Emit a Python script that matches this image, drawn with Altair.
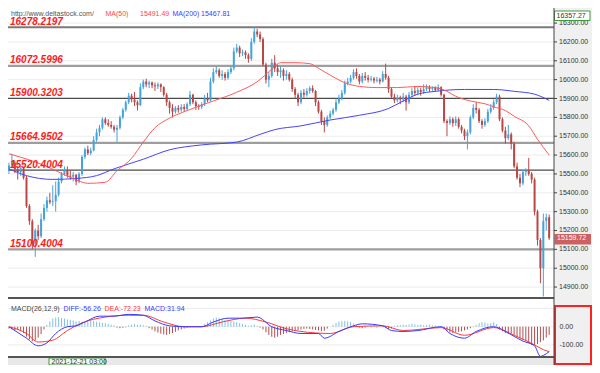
import altair as alt
import pandas as pd

# ---------------- data ----------------
opens = [
    15520, 15545, 15560, 15525, 15510, 15530, 15480, 15330, 15250, 15130,
    15200, 15170, 15260, 15320, 15360, 15350, 15355, 15390, 15460, 15500,
    15520, 15490, 15485, 15495, 15460, 15500, 15590, 15630, 15610, 15625,
    15680, 15720, 15745, 15790, 15770, 15760, 15750, 15735, 15745, 15800,
    15840, 15880, 15915, 15895, 15880, 15865, 15960, 15990, 15975, 15985,
    15970, 15965, 15975, 15960, 15920, 15880, 15850, 15830, 15850, 15840,
    15855, 15845, 15870, 15920, 15880, 15860, 15855, 15870, 15900, 15890,
    15990, 16040, 16050, 16020, 16030, 16010, 16040, 16060, 16150, 16170,
    16140, 16145, 16130, 16110, 16200, 16255, 16240, 16215, 16080, 16000,
    16020, 16090, 16060, 16040, 16050, 16020, 16030, 16000, 15950, 15920,
    15880, 15930, 15920, 15940, 15955, 15940, 15880, 15830, 15780, 15760,
    15800, 15820, 15840, 15880, 15900, 15930, 15980, 15990, 16010, 16040,
    16020, 15990, 16020, 16010, 16000, 16005, 15995, 16000, 15990, 16030,
    16010, 15950, 15910, 15890, 15905, 15895, 15910, 15880, 15920, 15940,
    15930, 15945, 15935, 15950, 15960, 15950, 15955, 15945, 15960, 15920,
    15780, 15770, 15790, 15770, 15790, 15750, 15730, 15700, 15720, 15800,
    15850, 15840, 15780, 15760, 15780, 15830, 15850, 15880, 15910, 15790,
    15730, 15690, 15710, 15660, 15540, 15480, 15450, 15510, 15520, 15500,
    15470, 15300, 15150, 15000, 15250, 15270,
]
highs = [
    15560, 15607, 15570, 15540, 15545, 15535, 15490, 15340, 15260, 15210,
    15230, 15290, 15340, 15380, 15400, 15440, 15460, 15480, 15510, 15540,
    15540, 15520, 15510, 15500, 15510, 15600, 15640, 15650, 15640, 15700,
    15740, 15760, 15800, 15800, 15790, 15780, 15760, 15760, 15810, 15850,
    15890, 15930, 15925, 15935, 15890, 15980, 16000, 16005, 15995, 15990,
    15985, 15985, 15980, 15965, 15930, 15890, 15870, 15860, 15865, 15870,
    15870, 15880, 15940, 15925, 15890, 15870, 15880, 15920, 15930, 16010,
    16060, 16070, 16060, 16050, 16040, 16055, 16070, 16170, 16190, 16180,
    16160, 16155, 16140, 16220, 16280, 16270, 16255, 16225, 16090, 16040,
    16110, 16130, 16080, 16070, 16060, 16050, 16040, 16010, 15960, 15930,
    15945, 15950, 15955, 15965, 15970, 15945, 15890, 15840, 15800, 15810,
    15835, 15850, 15900, 15920, 15945, 15995, 16010, 16025, 16055, 16060,
    16030, 16035, 16040, 16025, 16020, 16015, 16015, 16010, 16045, 16085,
    16020, 15960, 15925, 15920, 15915, 15930, 15920, 15935, 15955, 15965,
    15960, 15955, 15975, 15975, 15970, 15965, 15965, 15975, 15965, 15925,
    15790, 15805, 15800, 15805, 15800, 15760, 15740, 15735, 15810, 15870,
    15880, 15850, 15790, 15795, 15845, 15870, 15895, 15925, 15920, 15800,
    15750, 15760, 15720, 15670, 15560, 15500, 15520, 15530, 15585, 15510,
    15480, 15310, 15160, 15290, 15290, 15285,
]
lows = [
    15500, 15530, 15505, 15470, 15490, 15470, 15320, 15230, 15100, 15060,
    15150, 15160, 15250, 15300, 15340, 15330, 15300, 15380, 15450, 15490,
    15480, 15470, 15460, 15440, 15450, 15490, 15580, 15600, 15600, 15620,
    15670, 15700, 15735, 15760, 15750, 15740, 15720, 15670, 15735, 15790,
    15830, 15870, 15880, 15860, 15836, 15860, 15950, 15960, 15955, 15955,
    15940, 15950, 15935, 15910, 15860, 15820, 15800, 15820, 15825, 15830,
    15830, 15835, 15860, 15870, 15840, 15840, 15845, 15860, 15880, 15885,
    15980, 16030, 16010, 16000, 15995, 16000, 16030, 16050, 16140, 16120,
    16125, 16110, 16090, 16100, 16190, 16225, 16200, 16070, 15980, 15960,
    16010, 16040, 16020, 16010, 15995, 16000, 15990, 15935, 15900, 15860,
    15870, 15905, 15910, 15925, 15930, 15860, 15820, 15760, 15720, 15750,
    15790, 15810, 15830, 15870, 15890, 15920, 15970, 15980, 16000, 16005,
    15975, 15980, 15995, 15985, 15990, 15980, 15985, 15975, 15985, 16000,
    15930, 15900, 15875, 15880, 15870, 15880, 15836, 15870, 15905, 15915,
    15920, 15915, 15925, 15940, 15935, 15940, 15935, 15940, 15910, 15770,
    15700, 15760, 15750, 15755, 15740, 15715, 15680, 15630, 15710, 15790,
    15820, 15770, 15740, 15750, 15770, 15820, 15840, 15870, 15780, 15720,
    15660, 15680, 15630, 15530, 15470, 15430, 15440, 15490, 15490, 15450,
    15280, 15120, 14920, 14850, 15200, 15150,
]
closes = [
    15545, 15560, 15525, 15510, 15530, 15480, 15330, 15250, 15130, 15200,
    15170, 15260, 15320, 15360, 15350, 15355, 15390, 15460, 15500, 15520,
    15490, 15485, 15495, 15460, 15500, 15590, 15630, 15610, 15625, 15680,
    15720, 15745, 15790, 15770, 15760, 15750, 15735, 15745, 15800, 15840,
    15880, 15915, 15895, 15880, 15865, 15960, 15990, 15975, 15985, 15970,
    15965, 15975, 15960, 15920, 15880, 15850, 15830, 15850, 15840, 15855,
    15845, 15870, 15920, 15880, 15860, 15855, 15870, 15900, 15890, 15990,
    16040, 16050, 16020, 16030, 16010, 16040, 16060, 16150, 16170, 16140,
    16145, 16130, 16110, 16200, 16255, 16240, 16215, 16080, 16000, 16020,
    16090, 16060, 16040, 16050, 16020, 16030, 16000, 15950, 15920, 15880,
    15930, 15920, 15940, 15955, 15940, 15880, 15830, 15780, 15760, 15800,
    15820, 15840, 15880, 15900, 15930, 15980, 15990, 16010, 16040, 16020,
    15990, 16020, 16010, 16000, 16005, 15995, 16000, 15990, 16030, 16010,
    15950, 15910, 15890, 15905, 15895, 15910, 15880, 15920, 15940, 15930,
    15945, 15935, 15950, 15960, 15950, 15955, 15945, 15960, 15920, 15780,
    15770, 15790, 15770, 15790, 15750, 15730, 15700, 15720, 15800, 15850,
    15840, 15780, 15760, 15780, 15830, 15850, 15880, 15910, 15790, 15730,
    15690, 15710, 15660, 15540, 15480, 15450, 15510, 15520, 15500, 15470,
    15300, 15150, 15000, 15250, 15270, 15160,
]

ma50_idx = [0, 11, 22, 27, 33, 37, 42, 46, 50, 55, 61, 70, 78, 85, 90, 93, 98, 103,
            106, 110, 115, 120, 126, 133, 140, 146, 150, 153, 158, 163, 166, 170,
            173, 178, 181, 185]
ma50 = [15607, 15552, 15476, 15450, 15456, 15517, 15583, 15669, 15745, 15796, 15836,
        15887, 15933, 15989, 16055, 16090, 16090, 16085, 16060, 16024, 15984, 15964,
        15958, 15958, 15964, 15958, 15938, 15912, 15887, 15872, 15856, 15836, 15806,
        15755, 15684, 15600]
ma200_idx = [0, 6, 15, 23, 30, 36, 46, 55, 66, 78, 86, 91, 100, 110, 120, 130, 135,
             140, 146, 156, 166, 173, 180, 185]
ma200 = [15527, 15491, 15471, 15476, 15491, 15527, 15578, 15628, 15654, 15669, 15710,
         15735, 15755, 15786, 15811, 15847, 15887, 15923, 15938, 15948, 15948, 15938,
         15923, 15890]

diff_idx = [0, 6, 10, 13, 16, 20, 23, 26, 31, 36, 41, 46, 50, 55, 60, 66, 70, 75, 80,
            85, 90, 95, 100, 106, 108, 113, 118, 121, 128, 131, 135, 140, 148, 151,
            156, 160, 166, 170, 173, 176, 180, 182, 183, 185]
diff_vals = [0, -63, -105, -89, -37, 0, 5, 26, 58, 58, 68, 63, 32, 5, 0, 0, 26, 47, 47,
             53, 0, -21, -37, -37, -63, -26, 5, 16, 5, -21, -26, -21, 0, -37, -63, -26,
             0, -26, -53, -79, -105, -163, -158, -137]
dea_idx = [0, 6, 10, 15, 20, 25, 33, 40, 46, 53, 60, 66, 73, 81, 88, 95, 100, 110, 118,
           128, 135, 148, 156, 166, 173, 180, 183, 185]
dea_vals = [0, -37, -84, -74, -21, 21, 53, 63, 63, 26, 0, 0, 26, 47, 26, -11, -26, -37,
            0, 5, -21, -5, -47, -5, -47, -100, -126, -137]
macd_hist = [
    -10, -15, -20, -18, -25, -35, -55, -70, -80, -75,
    -60, -40, -15, 10, 30, 45, 50, 52, 48, 45,
    40, 38, 35, 30, 32, 28, 25, 30, 35, 33,
    28, 25, 22, 20, 15, 12, 8, -5, -8, -6,
    -3, 8, 12, 15, 10, 12, 8, 5, -8, -15,
    -25, -32, -38, -42, -45, -40, -35, -28, -20, -15,
    -10, -5, -3, 2, -2, 3, 5, 15, 25, 35,
    45, 50, 48, 42, 38, 35, 30, 28, 25, 20,
    15, 10, 5, 8, 12, 5, -5, -15, -30, -45,
    -55, -60, -55, -45, -40, -35, -30, -25, -20, -18,
    -15, -12, -10, -12, -15, -18, -20, -25, -22, -10,
    0, 10, 20, 28, 30, 32, 30, 25, 18, 10,
    -5, -8, -5, 3, -3, 5, -4, 2, -3, -8,
    -12, -10, 5, 8, 10, 12, 10, 12, 15, 12,
    10, 12, 8, 10, 12, 8, 6, 4, 2, -15,
    -25, -32, -35, -30, -28, -25, -20, -15, -8, -2,
    10, 20, 25, 22, 18, 20, 25, 15, -15, -25,
    -35, -40, -38, -45, -55, -65, -72, -80, -90, -100,
    -100, -95, -85, -75, -60, -45,
]

price_ticks = [16300, 16200, 16100, 16000, 15900, 15800, 15700, 15600, 15500,
               15400, 15300, 15200, 15100, 15000, 14900]
price_tick_labels = ["16300.00", "16200.00", "16100.00", "16000.00", "15900.00",
                     "15800.00", "15700.00", "15600.00", "15500.00", "15400.00",
                     "15300.00", "15200.00", "15100.00", "15000.00", "14900.00"]
macd_ticks = [0, -100]
macd_tick_labels = ["0.00", "-100.00"]
macd_grid = [100, 0, -100]

levels_top = [16278.2197]
levels_heavy = [16072.5996, 15664.9502, 15100.4004]
levels_thin = [15900.3203, 15520.4004]
level_values = [16278.2197, 16072.5996, 15900.3203, 15664.9502, 15520.4004, 15100.4004]
level_labels = ["16278.2197", "16072.5996", "15900.3203", "15664.9502", "15520.4004",
                "15100.4004"]
last_price = [15159.72]
last_price_label = ["15159.72"]

# ---------------- styling / layout ----------------
FONT = "Liberation Sans"
UP, DOWN = "#44a3da", "#bb4646"
W, H = 584, 357
EDGE = 546          # right edge of the plot panes (axis strip starts here)
P_BOT = 290         # bottom of the price pane
M_BOT = 349         # bottom of the MACD pane

XS = alt.Scale(domain=[-1 / 3, 599 / 3], nice=False, zero=False)
PS = alt.Scale(domain=[14842, 16380], range=[P_BOT, 0], nice=False, zero=False)
MS = alt.Scale(domain=[-210.5, 158], range=[H, P_BOT], nice=False, zero=False)

candles = pd.DataFrame({"i": list(range(len(closes))), "o": opens, "h": highs,
                        "l": lows, "c": closes})
hist = pd.DataFrame({"i": list(range(len(macd_hist))), "v": macd_hist})
ONE = pd.DataFrame({"k": [0]})


def X(f="i"):
    return alt.X(f"{f}:Q", scale=XS, axis=None)


def PY(f):
    return alt.Y(f"{f}:Q", scale=PS, axis=None)


def MY(f):
    return alt.Y(f"{f}:Q", scale=MS, axis=None)


def rect(x1, x2, y1, y2, **kw):
    return alt.Chart(ONE).mark_rect(**kw).encode(
        x=alt.value(x1), x2=alt.value(x2), y=alt.value(y1), y2=alt.value(y2))


def hrule(x1, x2, y, color, w):
    return alt.Chart(ONE).mark_rule(color=color, strokeWidth=w).encode(
        x=alt.value(x1), x2=alt.value(x2), y=alt.value(y))


def vrule(x, y1, y2, color, w):
    return alt.Chart(ONE).mark_rule(color=color, strokeWidth=w).encode(
        x=alt.value(x), y=alt.value(y1), y2=alt.value(y2))


def label(text, x, y, color, size=7, **kw):
    return alt.Chart(pd.DataFrame({"t": [text]})).mark_text(
        align="left", baseline="middle", color=color, fontSize=size, font=FONT, **kw
    ).encode(x=alt.value(x), y=alt.value(y), text="t:N")


def level_rule(values, color, w):
    return alt.Chart(pd.DataFrame({"p": values})).mark_rule(
        color=color, strokeWidth=w).encode(x=alt.value(0), x2=alt.value(EDGE), y=PY("p"))


# ---------------- price pane ----------------
grid_p = alt.Chart(pd.DataFrame({"p": price_ticks})).mark_rule(
    color="#ececec", strokeWidth=1).encode(x=alt.value(0), x2=alt.value(EDGE), y=PY("p"))
lev_top = level_rule(levels_top, "#7a7a7a", 2)
lev_heavy = level_rule(levels_heavy, "#9e9e9e", 2.2)
lev_thin = level_rule(levels_thin, "#4a4a4a", 1.2)

up = alt.Chart(candles).transform_filter("datum.c >= datum.o")
dn = alt.Chart(candles).transform_filter("datum.c < datum.o")
wick_up = up.mark_rule(color=UP, strokeWidth=1).encode(x=X(), y=PY("l"), y2="h:Q")
wick_dn = dn.mark_rule(color=DOWN, strokeWidth=1).encode(x=X(), y=PY("l"), y2="h:Q")
body_up = up.mark_rule(color=UP, strokeWidth=2).encode(x=X(), y=PY("o"), y2="c:Q")
body_dn = dn.mark_rule(color=DOWN, strokeWidth=2).encode(x=X(), y=PY("o"), y2="c:Q")

line50 = alt.Chart(pd.DataFrame({"i": ma50_idx, "m": ma50})).mark_line(
    color="#ff5a5a", strokeWidth=1, interpolate="monotone").encode(x=X(), y=PY("m"))
line200 = alt.Chart(pd.DataFrame({"i": ma200_idx, "m": ma200})).mark_line(
    color="#4444ff", strokeWidth=1, interpolate="monotone").encode(x=X(), y=PY("m"))

lev_text = alt.Chart(pd.DataFrame({"p": level_values, "t": level_labels})).mark_text(
    align="left", baseline="alphabetic", dy=-2.5, color="#ff1a1a", fontSize=10,
    fontStyle="italic", fontWeight="bold", font=FONT
).encode(x=alt.value(2), y=PY("p"), text="t:N")

axis_bg_p = rect(EDGE, W, 0, P_BOT, color="#f0f0f0")
p_ticks = alt.Chart(pd.DataFrame({"p": price_ticks})).mark_rule(
    color="#444", strokeWidth=1).encode(x=alt.value(EDGE), x2=alt.value(EDGE + 3), y=PY("p"))
p_labels = alt.Chart(pd.DataFrame({"p": price_ticks, "t": price_tick_labels})).mark_text(
    align="left", baseline="middle", color="#333", fontSize=7, font=FONT
).encode(x=alt.value(551), y=PY("p"), text="t:N")

top_box = rect(546.5, 582, 3, 12.5, color="#ffffff", stroke="#3c9a3c", strokeWidth=1)
top_txt = label("16357.27", 548.5, 8, "#333", 7)
cur_box = rect(546.5, 583, 226, 236.5, color="#cd6060")
cur_txt = alt.Chart(pd.DataFrame({"p": last_price, "t": last_price_label})).mark_text(
    align="left", baseline="middle", color="#ffffff", fontSize=7, font=FONT
).encode(x=alt.value(549), y=PY("p"), text="t:N")

leg1 = label("http://www.deltastock.com/", 3, 5.5, "#555555")
leg2 = label("MA(50)", 97.5, 5.5, "#ff4444")
leg3 = label("15491.49", 132, 5.5, "#ff4444")
leg4 = label("MA(200)", 164.5, 5.5, "#3b3bff")
leg5 = label("15467.81", 193, 5.5, "#3b3bff")

price = alt.layer(
    grid_p, lev_heavy, lev_top, lev_thin, wick_up, wick_dn, body_up, body_dn, line200,
    line50, lev_text, axis_bg_p, p_ticks, p_labels, top_box, top_txt, cur_box, cur_txt,
    leg1, leg2, leg3, leg4, leg5,
)

# ---------------- MACD pane ----------------
grid_m = alt.Chart(pd.DataFrame({"v": macd_grid})).mark_rule(
    color="#ececec", strokeWidth=1).encode(x=alt.value(0), x2=alt.value(EDGE), y=MY("v"))
hist_pos = alt.Chart(hist).transform_filter("datum.v >= 0").mark_rule(
    color="#7ec2e6", strokeWidth=1).encode(x=X(), y=MY("v"), y2=alt.datum(0))
hist_neg = alt.Chart(hist).transform_filter("datum.v < 0").mark_rule(
    color="#b34d4d", strokeWidth=1).encode(x=X(), y=MY("v"), y2=alt.datum(0))
diff_line = alt.Chart(pd.DataFrame({"i": diff_idx, "v": diff_vals})).mark_line(
    color="#3a3aff", strokeWidth=1, interpolate="monotone").encode(x=X(), y=MY("v"))
dea_line = alt.Chart(pd.DataFrame({"i": dea_idx, "v": dea_vals})).mark_line(
    color="#ff3a3a", strokeWidth=1, interpolate="monotone").encode(x=X(), y=MY("v"))

mleg1 = label("MACD(26,12,9)", 3, 300.5, "#444444")
mleg2 = label("DIFF:-56.26", 55.5, 300.5, "#3a3aff")
mleg3 = label("DEA:-72.23", 96.5, 300.5, "#ff3a3a")
mleg4 = label("MACD:31.94", 136.5, 300.5, "#3a3aff")

axis_bg_m = rect(EDGE, W, P_BOT, H, color="#f0f0f0")
red_box = rect(547, 583, 298, 356, fillOpacity=0, stroke="#ff2020", strokeWidth=2)
m_labels = alt.Chart(pd.DataFrame({"v": macd_ticks, "t": macd_tick_labels})).mark_text(
    align="left", baseline="middle", color="#333", fontSize=7, font=FONT
).encode(x=alt.value(551.5), y=MY("v"), text="t:N")

strip = rect(0, EDGE, M_BOT, H, color="#e8e8e8")
date_box = rect(41, 97, 350, 357, color="#f4f4f4", stroke="#3c9a3c", strokeWidth=1)
date_txt = label("2021-12-21 03:00", 43.5, 354, "#333333", 7)

sep_p = hrule(0, EDGE, P_BOT, "#555555", 2)
sep_m = hrule(0, EDGE, M_BOT, "#555555", 2)
sep_v = vrule(EDGE, 0, H, "#444444", 1)

macd = alt.layer(
    grid_m, hist_pos, hist_neg, dea_line, diff_line, mleg1, mleg2, mleg3, mleg4,
    axis_bg_m, red_box, m_labels, strip, date_box, date_txt, sep_p, sep_m, sep_v,
)

chart = alt.layer(price, macd).resolve_scale(y="independent").properties(
    width=W, height=H, autosize=alt.AutoSizeParams(type="none"), padding=0,
    background="white",
).configure_view(stroke=None)

chart.save("out.html", embed_options={"renderer": "svg", "actions": False})
